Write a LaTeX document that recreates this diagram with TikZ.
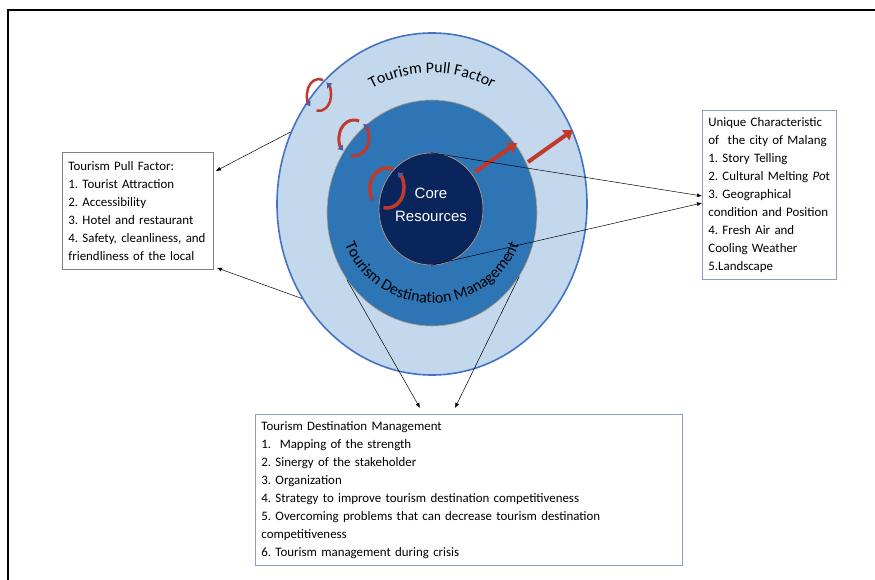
\documentclass[tikz,border=0pt]{standalone}
\usepackage{fontspec}
\setmainfont{Carlito}
\newfontfamily\arialfont{Liberation Sans}
\usetikzlibrary{shapes.geometric,arrows.meta,decorations.text,calc}
\definecolor{pullblue}{RGB}{196,216,237}
\definecolor{ringblue}{RGB}{68,114,196}
\definecolor{tdmblue}{RGB}{46,117,182}
\definecolor{coreblue}{RGB}{10,37,92}
\definecolor{ringtan}{RGB}{200,160,120}
\definecolor{arrred}{RGB}{192,57,43}
\definecolor{tipblue}{RGB}{80,90,160}
\definecolor{boxgray}{RGB}{128,128,128}
\definecolor{boxblue}{RGB}{140,158,190}
\newcommand\ringfont{\fontsize{16}{16}\selectfont}
\frenchspacing
\tikzset{
	ring/.style 2 args={ellipse,inner sep=0pt,minimum width=#1,minimum height=#2},
	listbox/.style={draw=#1,line width=0.8pt,fill=white,align=left,anchor=north west,inner xsep=6pt,inner ysep=7pt,font=\fontsize{12.9}{18}\selectfont},
	conn/.style={line width=0.5pt,-{Latex[length=5pt,width=4pt]}},
	pusharrow/.style={arrred,line width=4pt,-{Triangle[length=9pt,width=12pt]}},
	cyc/.style={arrred,line width=#1,-{Latex[length=5pt,width=8pt,color=tipblue]}}
}

\begin{document}
\begin{tikzpicture}[x=1pt,y=-1pt]
					\useasboundingbox (0,0) rectangle (875,580);
					\clip (0,0) rectangle (875,580);
					\draw[line width=2.5pt] (890,10) -| (8,590);

					\node [ring={310pt}{342pt},draw=ringblue,line width=1.6pt,fill=pullblue] (pull) at (432,204) {};
					\node [ring={210pt}{226pt},draw=ringtan,line width=0.6pt,fill=tdmblue] (tdm) at (432,213) {};
					\node [ring={104pt}{112pt},draw=ringtan,line width=0.6pt,fill=coreblue,text=white,align=center,font=\arialfont\fontsize{15}{23}\selectfont,text depth=9pt] (core) at (431,209) {Core\\Resources};

					\path [decorate,decoration={text along path,text align=center,text={|\ringfont|Tourism Pull Factor}}] ($(pull.center)+(-150:128 and 131)$) arc[start angle=-150,end angle=-30,x radius=128,y radius=131];
					\path [decorate,decoration={text along path,text align=center,text={|\ringfont|Tourism Destination Management}}] ($(tdm.center)+(165:93 and 90)$) arc[start angle=165,end angle=15,x radius=93,y radius=90];

					\draw [cyc=2.5pt] ($(319,95)+(-70:12 and 16)$) arc[start angle=-70,end angle=-225,x radius=12,y radius=16];
					\draw [cyc=2.5pt] ($(319,95)+(-258:12 and 16)$) arc[start angle=-258,end angle=-412,x radius=12,y radius=16];
					\draw [cyc=3pt] ($(354,138)+(-70:15 and 18)$) arc[start angle=-70,end angle=-225,x radius=15,y radius=18];
					\draw [cyc=3pt] ($(354,138)+(-258:15 and 18)$) arc[start angle=-258,end angle=-412,x radius=15,y radius=18];
					\draw [cyc=3.5pt] ($(387,188)+(-70:17 and 20)$) arc[start angle=-70,end angle=-225,x radius=17,y radius=20];
					\draw [cyc=3.5pt] ($(387,188)+(-258:17 and 20)$) arc[start angle=-258,end angle=-412,x radius=17,y radius=20];

					\draw [pusharrow] (475,172) -- (517,143);
					\draw [pusharrow] (528,162) -- (573,130);

					\node [listbox=boxgray,text width=139pt,inner ysep=9pt] (pullbox) at (62,152) {Tourism Pull Factor:\\1. Tourist Attraction\\2. Accessibility\\3. Hotel and restaurant\\4. Safety, cleanliness, and\\friendliness of the local};
					\node [listbox=boxblue,text width=122pt] (uniqbox) at (702,110) {Unique Characteristic\\of~ the city of Malang\\1. Story Telling\\2. Cultural Melting \textit{Po}t\\3. Geographical\\condition and Position\\4. Fresh Air and\\Cooling Weather\\5.Landscape};
					\node [listbox=boxblue,text width=415pt] (tdmbox) at (255,414) {Tourism Destination Management\\1.~ Mapping of the strength\\2. Sinergy of the stakeholder\\3. Organization\\4. Strategy to improve tourism destination competitiveness\\5. Overcoming problems that can decrease tourism destination\\competitiveness\\6. Tourism management during crisis};

					\draw [conn] (pull.153) -- ([shift={(2pt,-19pt)}]pullbox.north east);
					\draw [conn] (pull.216) -- ([shift={(3pt,2pt)}]pullbox.south east);
					\draw [conn] (core.90) -- ([yshift=-86pt]uniqbox.north west);
					\draw [conn] (core.270) -- ([yshift=-93pt]uniqbox.north west);
					\draw [conn] (tdm.218) -- ([shift={(165pt,6pt)}]tdmbox.north west);
					\draw [conn] (tdm.324) -- ([shift={(200pt,6pt)}]tdmbox.north west);
				\end{tikzpicture}
\end{document}
